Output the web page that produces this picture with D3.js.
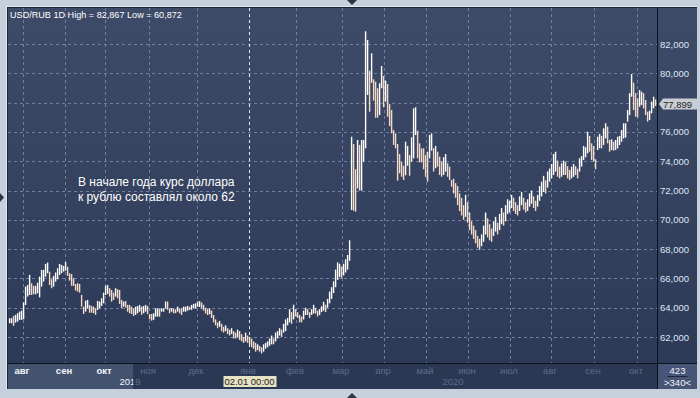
<!DOCTYPE html>
<html>
<head>
<meta charset="utf-8">
<script src="https://cdn.jsdelivr.net/npm/d3@7"></script>
<style>
  html, body { margin: 0; padding: 0; background: #c6d0dc; overflow: hidden; }
  text { font-family: "Liberation Sans", Arial, sans-serif; }
</style>
</head>
<body>
<svg id="chart" width="700" height="398"></svg>
<script>
// daily bars, late Jul 2019 .. mid Oct 2020 (high / low)
var highs = [
  63.28,63.28,63.44,63.51,63.62,63.73,63.80,64.37,65.44,65.55,
  66.24,65.67,65.49,65.49,65.71,66.12,66.58,66.58,66.99,67.08,
  66.46,65.94,66.17,66.40,66.69,66.99,66.92,66.85,67.12,66.80,
  66.35,66.30,66.01,65.62,65.67,65.62,64.87,64.07,64.48,64.53,
  64.19,64.12,64.07,63.96,64.46,64.42,64.64,65.03,65.51,65.55,
  65.33,65.21,65.03,65.33,65.26,65.21,64.53,64.42,64.46,64.19,
  64.19,64.07,63.96,64.07,64.12,64.19,64.07,64.12,64.19,64.12,
  63.57,63.57,63.62,63.96,63.96,63.92,63.96,63.96,64.42,64.42,
  63.96,63.96,63.96,63.89,64.07,63.96,63.96,64.07,64.07,64.12,
  64.07,64.19,64.26,64.30,64.42,
  64.45,64.35,64.20,64.00,63.90,
  63.95,63.80,63.50,63.20,63.00,63.10,62.90,62.70,62.80,62.60,
  62.50,62.60,62.40,62.30,62.50,62.40,62.20,62.00,62.30,62.10,
  62.00,61.90,61.70,61.60,61.50,61.40,61.30,61.50,61.60,61.70,
  61.90,62.10,61.90,62.30,62.40,62.60,62.50,62.90,63.20,63.30,
  63.90,63.70,64.20,63.90,63.70,63.50,63.40,63.80,64.00,63.90,
  63.70,63.90,64.20,64.00,63.80,63.90,64.10,64.40,64.20,64.60,
  65.10,65.40,65.80,66.60,67.10,67.00,66.80,67.00,67.30,67.60,68.60,
  75.67,75.17,73.45,75.45,75.11,75.45,75.45,82.867,82.27,80.18,
  81.37,79.59,79.43,78.98,79.32,80.50,79.82,79.50,79.27,77.90,
  77.49,76.13,75.90,75.17,74.49,73.97,73.69,75.33,75.04,74.42,
  75.63,77.61,77.68,76.08,75.22,74.88,74.88,74.42,74.65,75.79,
  75.90,74.88,75.04,74.65,74.31,73.97,74.27,74.49,73.86,73.63,72.72,
  72.80,72.50,72.30,71.80,71.50,71.00,71.70,71.20,
  70.50,69.90,69.60,69.30,68.90,68.70,69.00,69.60,70.50,70.10,
  69.70,69.40,69.90,70.20,69.80,70.40,70.80,70.50,71.00,71.40,
  71.30,71.70,71.50,71.20,71.00,71.60,71.90,71.50,71.20,71.40,
  71.80,72.00,71.60,71.30,71.70,72.30,72.60,73.00,72.70,73.30,
  73.50,73.81,74.49,74.65,74.04,73.63,73.86,74.04,73.97,73.66,
  73.40,73.63,73.81,73.66,73.49,74.20,74.35,75.04,74.95,76.01,
  75.72,75.22,75.04,74.13,75.67,75.86,75.72,76.24,76.59,76.36,
  75.45,75.49,75.33,75.45,75.67,75.72,76.13,76.59,76.59,77.49,
  78.64,79.95,79.36,78.64,78.29,78.86,78.74,78.64,78.18,77.38,
  77.45,78.06,78.40,78.22
];
var lows = [
  62.94,62.94,62.76,62.98,63.05,63.17,63.17,63.21,64.19,64.76,
  64.87,64.87,64.92,64.92,64.99,64.71,65.44,65.78,66.12,66.35,
  65.55,65.33,65.44,65.78,65.94,66.24,66.35,66.46,66.53,66.17,
  65.85,65.49,65.49,65.17,65.10,65.03,64.07,63.57,63.73,63.96,
  63.66,63.66,63.62,63.51,63.85,63.96,64.12,64.30,64.87,64.94,
  64.76,64.42,64.53,64.76,64.64,64.26,63.96,64.07,64.01,63.73,
  63.62,63.57,63.44,63.51,63.62,63.73,63.51,63.62,63.73,63.57,
  63.21,63.12,63.17,63.39,63.39,63.39,63.73,63.73,63.96,63.85,
  63.62,63.73,63.62,63.62,63.73,63.62,63.51,63.73,63.73,63.80,
  63.85,63.85,63.96,63.96,64.07,
  64.05,63.95,63.80,63.60,63.50,
  63.55,63.30,63.00,62.80,62.60,62.70,62.40,62.30,62.40,62.20,
  62.10,62.20,61.90,61.90,62.00,61.80,61.70,61.60,61.70,61.60,
  61.50,61.30,61.20,61.00,61.10,61.00,60.872,61.00,61.20,61.30,
  61.40,61.50,61.50,61.70,61.90,62.10,62.00,62.30,62.40,62.80,
  63.00,62.90,63.20,63.40,63.30,63.00,63.00,63.20,63.50,63.50,
  63.30,63.50,63.60,63.60,63.40,63.50,63.70,63.80,63.70,64.00,
  64.30,64.60,65.00,65.40,65.90,66.10,66.00,66.20,66.40,66.60,67.20,
  70.67,70.62,70.55,72.15,71.99,71.99,73.97,74.88,78.52,77.38,
  79.36,78.13,76.97,76.97,77.15,78.98,77.68,78.06,77.04,76.40,
  75.90,75.11,74.88,72.67,73.17,72.94,72.72,73.04,73.69,73.01,
  73.97,74.20,75.79,74.20,73.92,73.92,73.45,72.94,72.60,74.20,
  74.72,73.29,73.52,73.63,73.06,72.94,73.06,73.29,72.94,72.72,72.26,
  71.80,71.50,71.00,70.60,70.30,70.00,70.20,69.80,
  69.30,69.00,68.70,68.40,68.10,67.95,68.20,68.50,69.00,68.80,
  68.60,68.50,68.90,69.20,69.00,69.30,69.70,69.60,69.90,70.40,
  70.50,70.80,70.60,70.40,70.30,70.60,71.00,70.70,70.50,70.60,
  70.90,71.10,70.80,70.60,70.90,71.30,71.60,71.90,71.80,72.20,
  72.60,72.83,73.06,73.29,72.94,72.83,72.94,73.06,73.06,72.83,
  72.72,72.83,72.94,73.06,72.83,73.29,73.63,74.08,74.27,74.54,
  74.65,74.08,73.97,73.45,74.76,74.88,74.88,75.11,75.56,75.22,
  74.65,74.76,74.72,74.76,74.88,75.11,75.33,75.56,75.61,76.70,
  77.15,78.40,77.49,77.04,76.99,77.72,77.84,77.61,77.15,76.70,
  76.81,77.27,77.61,77.77
];
var lastPrice = 77.899;

// month boundaries in bar units
var monthNames  = ["авг","сен","окт","ноя","дек","янв","фев","мар","апр","май","июн","июл","авг","сен","окт"];
var monthStarts = [7, 28, 48, 70, 94, 120, 143.5, 166.5, 187.5, 208.5, 229.5, 250.5, 271, 292.5, 314];
var yearNames = ["2019", "2020"];
var yearAt    = [60.5, 222];
var yTicks = [62, 64, 66, 68, 70, 72, 74, 76, 78, 80, 82];

var cursorAt = 120, cursorLabel = "02.01 00:00";
var totalBars = 423, shownBars = ">340<";
var note = ["В начале года курс доллара", "к рублю составлял около 62"];

var svg = d3.select("#chart");
var pL = 8, pT = 8, pR = 657, pB = 363, frameR = 697, frameB = 389, thumbW = 125;

var ru = d3.formatLocale({decimal: ",", thousands: "\u00a0", grouping: [3], currency: ["", ""]});
var f3 = ru.format(".3f");

var x = d3.scaleLinear().domain([0, highs.length - 1]).range([9, 9 + 2 * (highs.length - 1)]);
var y = d3.scaleLinear().domain([62, 82]).range([337, 44]);

var defs = svg.append("defs");
var grad = defs.append("linearGradient").attr("id", "bg").attr("x1", 0).attr("y1", 0).attr("x2", 0).attr("y2", 1);
grad.append("stop").attr("offset", "0%").attr("stop-color", "#3e4b68");
grad.append("stop").attr("offset", "100%").attr("stop-color", "#2c3a58");
defs.append("clipPath").attr("id", "plotclip").append("rect")
  .attr("x", pL).attr("y", pT).attr("width", pR - pL).attr("height", pB - pT);
defs.append("clipPath").attr("id", "thumbclip").append("rect")
  .attr("x", pL).attr("y", pB).attr("width", thumbW).attr("height", frameB - pB);
defs.append("clipPath").attr("id", "restclip").append("rect")
  .attr("x", pL + thumbW).attr("y", pB).attr("width", pR - pL - thumbW).attr("height", frameB - pB);

// outer frame
svg.append("rect").attr("width", 700).attr("height", 398).attr("fill", "#c6d0dc");
svg.append("rect").attr("x", 6).attr("y", 6).attr("width", frameR - 6).attr("height", frameB - 6).attr("fill", "#e3e9f0");
svg.append("rect").attr("x", 7).attr("y", 7).attr("width", frameR - 7).attr("height", frameB - 7).attr("fill", "#1c2436");
svg.append("rect").attr("x", pL).attr("y", pT).attr("width", pR - pL).attr("height", pB - pT).attr("fill", "url(#bg)");
svg.append("rect").attr("x", pR + 1).attr("y", pT).attr("width", frameR - pR - 1).attr("height", pB - pT).attr("fill", "url(#bg)");

// bottom strip
svg.append("rect").attr("x", pL).attr("y", pB + 1).attr("width", pR - pL).attr("height", frameB - pB - 1).attr("fill", "#2b3854");
svg.append("rect").attr("x", pL).attr("y", pB + 1).attr("width", thumbW).attr("height", frameB - pB - 1).attr("fill", "#43526f");
svg.append("rect").attr("x", pR + 1).attr("y", pB + 1).attr("width", frameR - pR - 1).attr("height", frameB - pB - 1).attr("fill", "#475676");

// grid
var grid = svg.append("g").attr("clip-path", "url(#plotclip)");
grid.selectAll("line.h").data(yTicks).join("line")
  .attr("class", "h")
  .attr("x1", pL).attr("x2", pR)
  .attr("y1", d => Math.round(y(d)) + 0.5).attr("y2", d => Math.round(y(d)) + 0.5)
  .attr("stroke", "#6f7f9e").attr("stroke-dasharray", "3,3");
grid.selectAll("line.v").data(monthStarts).join("line")
  .attr("class", "v")
  .attr("x1", d => Math.round(x(d)) + 0.5).attr("x2", d => Math.round(x(d)) + 0.5)
  .attr("y1", pT).attr("y2", pB)
  .attr("stroke", "#6f7f9e").attr("stroke-dasharray", "3,3");
grid.append("line")
  .attr("x1", x(cursorAt) + 0.5).attr("x2", x(cursorAt) + 0.5)
  .attr("y1", pT).attr("y2", pB)
  .attr("stroke", "#e8edf5").attr("stroke-dasharray", "3,3");

// bars
var bars = highs.map(function (h, i) { return {i: i, high: h, low: lows[i]}; });
grid.selectAll("rect.bar").data(bars).join("rect")
  .attr("class", "bar")
  .attr("x", d => x(d.i) - 0.1).attr("width", 1.4)
  .attr("y", d => y(d.high))
  .attr("height", d => Math.max(1, y(d.low) - y(d.high)))
  .attr("fill", function (d) {
    if (d.i === 0) return "#ffffff";
    var prev = (highs[d.i - 1] + lows[d.i - 1]) / 2;
    return (d.high + d.low) / 2 < prev ? "#f4dac6" : "#ffffff";
  });

// separators
svg.append("line").attr("x1", pR + 0.5).attr("x2", pR + 0.5).attr("y1", pT).attr("y2", frameB)
  .attr("stroke", "#0b111d");
svg.append("line").attr("x1", pL).attr("x2", frameR).attr("y1", pB + 0.5).attr("y2", pB + 0.5)
  .attr("stroke", "#0b111d");

// right axis (the label under the price marker stays hidden, as in the terminal)
var py = y(lastPrice);
var yAxis = svg.append("g").attr("transform", "translate(" + (pR + 3) + ",0)")
  .call(d3.axisRight(y).tickValues(yTicks.filter(v => Math.abs(y(v) - py) > 8))
    .tickSize(0).tickPadding(0).tickFormat(f3));
yAxis.select(".domain").remove();
yAxis.selectAll("text").attr("fill", "#dde6f4").style("font-size", "9.5px")
  .style("font-family", "Liberation Sans, Arial, sans-serif");

// last price marker
svg.append("path")
  .attr("d", "M" + (pR + 2) + "," + py + "L" + (pR + 6) + "," + (py - 5.5) + "L" + frameR + "," + (py - 5.5) +
    "L" + frameR + "," + (py + 5.5) + "L" + (pR + 6) + "," + (py + 5.5) + "Z")
  .attr("fill", "#c9cdd3");
svg.append("text").attr("x", pR + 6).attr("y", py + 3.5).attr("fill", "#1b1d22")
  .style("font-size", "9.5px").text(f3(lastPrice));

// months
svg.append("g").selectAll("text").data(monthNames).join("text")
  .attr("x", (d, i) => x(monthStarts[i]) - 1)
  .attr("y", pB + 11)
  .attr("text-anchor", "middle")
  .style("font-size", "9.5px")
  .style("font-weight", (d, i) => x(monthStarts[i]) < pL + thumbW ? "bold" : "normal")
  .attr("fill", (d, i) => x(monthStarts[i]) < pL + thumbW ? "#f2f5fa" : "#5c6c8b")
  .text(d => d);

// years, light inside the scroll thumb and dim outside it
["thumbclip", "restclip"].forEach(function (c) {
  svg.append("g").attr("clip-path", "url(#" + c + ")")
    .selectAll("text").data(yearNames).join("text")
    .attr("x", (d, i) => x(yearAt[i]))
    .attr("y", pB + 22)
    .attr("text-anchor", "middle")
    .style("font-size", "9.5px")
    .attr("fill", c === "thumbclip" ? "#f2f5fa" : "#5c6c8b")
    .text(d => d);
});

// cursor date box
var cx = x(cursorAt) + 0.5;
svg.append("rect").attr("x", cx - 26).attr("y", pB + 13).attr("width", 53).attr("height", 11).attr("fill", "#e6e2c6");
svg.append("text").attr("x", cx).attr("y", pB + 22).attr("text-anchor", "middle")
  .attr("fill", "#1b1d22").style("font-size", "9.5px").text(cursorLabel);

// bar counters
var mid = (pR + frameR) / 2 + 0.5;
svg.append("text").attr("x", mid).attr("y", pB + 11).attr("text-anchor", "middle")
  .attr("fill", "#f2f5fa").style("font-size", "9.5px").text(totalBars);
svg.append("line").attr("x1", mid - 10).attr("x2", mid + 10).attr("y1", pB + 13.5).attr("y2", pB + 13.5)
  .attr("stroke", "#1c2436");
svg.append("text").attr("x", mid).attr("y", pB + 23).attr("text-anchor", "middle")
  .attr("fill", "#f2f5fa").style("font-size", "9.5px").text(shownBars);

// header
svg.append("text").attr("x", 10).attr("y", 18).attr("fill", "#ffffff").style("font-size", "9.1px")
  .text("USD/RUB 1D High = " + f3(d3.max(highs)) + " Low = " + f3(d3.min(lows)));

// annotation
svg.append("g").selectAll("text").data(note).join("text")
  .attr("x", 78).attr("y", (d, i) => 186 + i * 15)
  .attr("fill", "#ffffff").style("font-size", "12px")
  .text(d => d);

// scroll arrows on the outer frame
svg.append("path").attr("d", "M347,0L357,0L352,5Z").attr("fill", "#2b3242");
svg.append("path").attr("d", "M347,398L357,398L352,393Z").attr("fill", "#2b3242");
svg.append("path").attr("d", "M0,193L4,197.5L0,202Z").attr("fill", "#2b3242");
</script>
</body>
</html>
